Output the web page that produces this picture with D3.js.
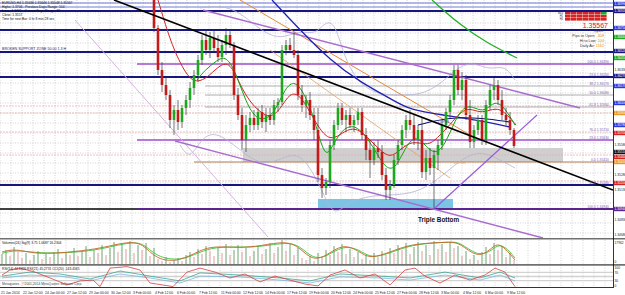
<!DOCTYPE html>
<html>
<head>
<meta charset="utf-8">
<script src="https://cdn.jsdelivr.net/npm/d3@7"></script>
<style>
  body { margin: 0; background: #fff; }
  svg { display: block; }
  text { font-family: "Liberation Sans", Arial, sans-serif; }
</style>
</head>
<body>
<svg id="chart" width="625" height="295"></svg>
<script>
//-----------------------------------------------------//
// Data (EURUSD H4)

const dateLabels = ["21 Jan 2014","22 Jan 12:00","24 Jan 00:00","27 Jan 12:00","29 Jan 00:00","30 Jan 12:00",
  "3 Feb 00:00","4 Feb 12:00","6 Feb 00:00","7 Feb 12:00","11 Feb 00:00","12 Feb 12:00","14 Feb 00:00",
  "17 Feb 12:00","19 Feb 00:00","20 Feb 12:00","24 Feb 00:00","25 Feb 12:00","27 Feb 00:00","28 Feb 12:00",
  "3 Mar 00:00","4 Mar 12:00","6 Mar 00:00","9 Mar 12:00"];

// candles visible in the main window start at bar 38
const firstBar = 38;
const opens  = [1.3718,1.3675,1.3633,1.3618,1.3608,1.3583,1.3593,1.3581,1.3595,1.3603,1.3615,1.3628,1.3643,1.3663,1.3653,1.3665,1.3655,1.3646,1.3658,1.3668,
  1.3658,1.3608,1.3588,1.3563,1.3578,1.3585,1.3578,1.3591,1.3581,1.3588,1.3583,1.3598,1.3601,1.3653,1.3658,1.3653,1.3648,1.3608,1.3598,1.3603,
  1.3588,1.3573,1.3528,1.3515,1.3521,1.3558,1.3578,1.3595,1.3583,1.3588,1.3578,1.3583,1.3591,1.3568,1.3553,1.3543,1.3555,1.3551,1.3528,1.3513,
  1.3518,1.3543,1.3558,1.3573,1.3583,1.3578,1.3563,1.3573,1.3531,1.3545,1.3535,1.3548,1.3558,1.3578,1.3591,1.3603,1.3633,1.3613,1.3623,1.3588,
  1.3561,1.3573,1.3583,1.3563,1.3598,1.3613,1.3618,1.3603,1.3588,1.3583,1.3573];
const highs  = [1.3723,1.3678,1.3641,1.3625,1.3613,1.3598,1.3603,1.3598,1.3608,1.3621,1.3633,1.3648,1.3668,1.3673,1.3671,1.3673,1.3668,1.3663,1.3675,1.3673,
  1.3661,1.3615,1.3595,1.3588,1.3591,1.3593,1.3595,1.3598,1.3595,1.3595,1.3603,1.3605,1.3658,1.3663,1.3665,1.3671,1.3653,1.3618,1.3608,1.3611,
  1.3595,1.3595,1.3535,1.3525,1.3563,1.3583,1.3600,1.3600,1.3593,1.3595,1.3588,1.3595,1.3595,1.3575,1.3563,1.3561,1.3563,1.3558,1.3535,1.3523,
  1.3548,1.3563,1.3578,1.3588,1.3593,1.3588,1.3578,1.3585,1.3553,1.3555,1.3553,1.3563,1.3583,1.3595,1.3608,1.3638,1.3638,1.3631,1.3628,1.3603,
  1.3578,1.3588,1.3588,1.3603,1.3618,1.3625,1.3623,1.3613,1.3595,1.3591,1.3575];
const lows   = [1.3671,1.3628,1.3611,1.3603,1.3575,1.3568,1.3573,1.3575,1.3588,1.3595,1.3608,1.3621,1.3638,1.3648,1.3645,1.3651,1.3641,1.3641,1.3648,1.3655,
  1.3603,1.3583,1.3553,1.3551,1.3571,1.3573,1.3573,1.3575,1.3571,1.3578,1.3578,1.3591,1.3598,1.3648,1.3651,1.3645,1.3603,1.3591,1.3585,1.3583,
  1.3563,1.3521,1.3505,1.3508,1.3515,1.3553,1.3573,1.3578,1.3571,1.3575,1.3571,1.3578,1.3563,1.3543,1.3525,1.3538,1.3545,1.3523,1.3503,1.3503,
  1.3515,1.3538,1.3553,1.3565,1.3573,1.3558,1.3553,1.3525,1.3523,1.3528,1.3495,1.3533,1.3553,1.3573,1.3585,1.3598,1.3608,1.3603,1.3583,1.3555,
  1.3555,1.3568,1.3558,1.3558,1.3593,1.3603,1.3598,1.3583,1.3578,1.3568,1.3555];
const closes = [1.3675,1.3633,1.3618,1.3608,1.3583,1.3593,1.3581,1.3595,1.3603,1.3615,1.3628,1.3643,1.3663,1.3653,1.3665,1.3655,1.3646,1.3658,1.3668,1.3658,
  1.3608,1.3588,1.3563,1.3578,1.3585,1.3578,1.3591,1.3581,1.3588,1.3583,1.3598,1.3601,1.3653,1.3658,1.3653,1.3648,1.3608,1.3598,1.3603,1.3588,
  1.3573,1.3528,1.3515,1.3521,1.3558,1.3578,1.3595,1.3583,1.3588,1.3578,1.3583,1.3591,1.3568,1.3553,1.3543,1.3555,1.3551,1.3528,1.3513,1.3518,
  1.3543,1.3558,1.3573,1.3583,1.3578,1.3563,1.3573,1.3531,1.3545,1.3535,1.3548,1.3558,1.3578,1.3591,1.3603,1.3633,1.3613,1.3623,1.3588,1.3561,
  1.3573,1.3583,1.3563,1.3598,1.3613,1.3618,1.3603,1.3588,1.3583,1.3573,1.3557];

// moving averages / bands as [bar, price]
const maFastRed = [[39,1.3703],[42,1.3663],[44.5,1.3640],[47,1.3623],[49.5,1.3621],[52,1.3628],[54.5,1.3638],[57,1.3641],[59.5,1.3618],
  [62,1.3601],[64.5,1.3591],[67,1.3585],[69.5,1.3593],[72,1.3611],[74.5,1.3608],[77,1.3591],[79.5,1.3573],[82,1.3563],[84.5,1.3568],
  [87,1.3575],[89.5,1.3573],[92,1.3563],[94.5,1.3553],[97,1.3545],[99.5,1.3553],[102,1.3561],[104.5,1.3560],[107,1.3558],[109.5,1.3568],
  [112,1.3578],[114.5,1.3591],[117,1.3595],[119.5,1.3590],[122,1.3593],[124.5,1.3595],[127,1.3585],[128.5,1.3578]];
const maFastGreen = [[48.75,1.3623],[50.75,1.3633],[53.25,1.3641],[55.75,1.3648],[58.25,1.3633],[60.75,1.3603],[63.25,1.3585],[65.75,1.3583],
  [68.25,1.3591],[70.75,1.3615],[73.25,1.3623],[75.75,1.3608],[78.25,1.3583],[80.75,1.3543],[82.75,1.3558],[85.25,1.3575],[88.25,1.3578],
  [90.75,1.3568],[93.25,1.3553],[95.75,1.3535],[98.25,1.3533],[100.75,1.3555],[103.25,1.3568],[105.75,1.3558],[108.25,1.3548],[110.75,1.3558],
  [113.25,1.3583],[115.75,1.3598],[118.25,1.3595],[120.75,1.3591],[123.25,1.3603],[125.75,1.3595],[128.25,1.3578]];
const maSlowBlue = [[67.5,1.3703],[74.5,1.3673],[82,1.3643],[89.5,1.3621],[97.75,1.3603],[102,1.3593],[110.25,1.3588],[118.75,1.3583],[127,1.3576]];
const maSlowNavy = [[104,1.3578],[112,1.3586],[120,1.3585],[127,1.3581]];
const maSlowGreen = [[107.5,1.3703],[114.5,1.3678],[121.25,1.3660],[128.75,1.3645]];
const bandUpper = [[49.5,1.3695],[54.5,1.3698],[59.5,1.3691],[64.5,1.3673],[69.5,1.3663],[74.5,1.3673],[78.25,1.3668],[80.75,1.3681],
  [83.25,1.3681],[85.75,1.3643],[89.5,1.3618],[94.5,1.3608],[99.5,1.3608],[104.5,1.3608],[109.5,1.3618],[114.5,1.3638],[118.25,1.3640],
  [122,1.3633],[125.75,1.3638],[128.25,1.3623]];
const bandLower = [[44.5,1.3558],[47,1.3543],[49.5,1.3563],[53.25,1.3573],[59.5,1.3553],[64.5,1.3538],[69.5,1.3543],[74.5,1.3553],
  [79.5,1.3518],[82.75,1.3486],[85.75,1.3498],[89.5,1.3505],[94.5,1.3508],[99.5,1.3508],[104.5,1.3512],[109.5,1.3525],[114.5,1.3543],
  [119.5,1.3553],[124.5,1.3543],[128.25,1.3535]];

// horizontal levels
const thinBlueLevels = [1.3700, 1.3696];
const navyLevels = [1.3692, 1.3673, 1.3651, 1.3626, 1.3518];
const purpleLevels = [1.3639, 1.3563];
const grayLevels = [1.3617, 1.3608, 1.3596];
const pinkDotLevels = [1.3597, 1.3590, 1.3571, 1.3548, 1.3522];
const brownLevel = 1.3541;
const bottomLevel = 1.3494;
const fibTexts = [["100.0", 1.3639], ["23.6", 1.3626], ["38.2", 1.3617], ["50.0", 1.3608], ["61.8", 1.3596], ["76.4", 1.3571],
  ["23.6", 1.3563], ["0.0", 1.3541], ["61.8", 1.3518], ["100.0", 1.3494]];

// trend lines: [bar, price] pairs
const blackTrend = [[28, 1.3703], [152.75, 1.3513]];
const purpleUpper = [[50.25, 1.3693], [144.5, 1.3595]];
const purpleLower = [[43.25, 1.3562], [135.25, 1.3465]];
const lavenderSteep = [[18.25, 1.3683], [66.5, 1.3466]];
const purpleRising = [[108.25, 1.3495], [133.75, 1.3588]];
const orangeA = [[59.5, 1.3703], [117, 1.3568]];
const orangeB = [[67, 1.3653], [112, 1.3525]];

// zones
const grayZone = { from: 60.25, to: 140.25, top: 1.3555, bottom: 1.3541 };
const blueZone = { from: 79, to: 112.75, top: 1.3504, bottom: 1.3494 };

// right edge price tags
const tagPrices = [1.3699, 1.3692, 1.3675, 1.3666, 1.3652, 1.3645, 1.3627, 1.3617, 1.3600, 1.3590, 1.3578, 1.3570, 1.3551, 1.3546, 1.3541, 1.3520, 1.3494];
const tagKinds  = ["blue","navy","blue","green","navy","green","navy","blue","blue","orange","blue","red","black","red","orange","red","purple"];

// volumes per bar (bars 0..128)
const volumes = [7500,10500,6000,12750,9000,4500,8250,3000,6750,9750,3750,7500,5250,9000,11250,4500,8250,6750,12000,6000,
  9750,13500,5250,10500,8250,14250,6750,12000,16500,9000,15000,11250,17250,8250,14250,10500,15750,6000,12000,3750,
  2250,5250,1500,3000,4500,2250,6750,9000,5250,11250,7500,13500,9750,6000,12750,8250,15000,6750,10500,14250,
  9000,12000,6000,9750,13500,7500,11250,15750,8250,12750,17962,9750,15000,6750,12000,4500,3000,6000,2250,8250,
  5250,10500,6750,13500,9000,15000,7500,11250,5250,9000,3750,6750,3000,8250,5250,9750,6750,12000,8250,14250,
  10500,15750,7500,12750,16500,9750,14250,6750,17250,11250,15000,9000,16500,12000,13500,6000,9750,3750,6750,3000,
  9000,12750,7500,15750,10500,13500,5250,8250,3000];
const volMaMain = [[0,9000],[3.25,11500],[8.25,7500],[14.5,8250],[22,10500],[27,13500],[31.25,16500],[35.25,15750],[38.5,3000],
  [44.5,1800],[49.5,10500],[53.25,13500],[59.5,12000],[64.5,13500],[71.25,17500],[74.5,12000],[77.5,3000],[80.75,5250],
  [85.25,15750],[89.5,9000],[91.75,4500],[95.25,6750],[101.25,14250],[107,15750],[112,16500],[114.5,15750],[118.75,4500],
  [122,10500],[123.75,15750],[125.75,12000],[128.25,3000]];
const volMaSignal = [[0,8000],[3.25,10500],[8.25,8500],[14.5,8000],[22,9750],[27,12750],[31.25,15750],[35.25,16500],[38.5,5250],
  [44.5,2250],[49.5,9000],[53.25,12750],[59.5,12750],[64.5,12750],[71.25,16500],[74.5,13500],[77.5,4500],[80.75,4500],
  [85.25,14250],[89.5,10500],[91.75,5250],[95.25,6000],[101.25,13500],[107,15750],[112,16500],[114.5,16500],[118.75,6000],
  [122,9000],[123.75,14250],[125.75,13500],[128.25,4500]];

// oscillators (0..100)
const oscRed = [[0,57],[2,81],[4.5,90],[8.25,71],[12,43],[16.25,10],[19.5,29],[22.75,33],[24.5,2],[27,90],[31.25,97],[34.5,81],
  [37,19],[42.75,2],[46.25,71],[49.5,90],[53.25,71],[57,43],[60.75,62],[64.5,24],[68.25,52],[72,33],[75.75,14],[79,5],[82,57],
  [85.75,81],[89.5,43],[93.25,62],[97,10],[100.75,81],[103.25,90],[105.75,52],[109.5,19],[113.25,57],[117,33],[120.75,57],
  [123.25,90],[125.75,71],[128.25,2]];
const oscTeal = [[0,52],[7,71],[14.5,62],[22,38],[29.5,76],[37,52],[44.5,29],[49.5,67],[59.5,57],[69.5,43],[77,29],[84.5,62],
  [94.5,52],[102,43],[110.75,71],[119.5,43],[124.5,71],[128.25,43]];
const oscBlue = [[0,43],[7,57],[14.5,52],[22,29],[29.5,62],[37,43],[44.5,19],[49.5,52],[59.5,48],[69.5,33],[77,19],[84.5,48],
  [94.5,43],[102,33],[110.75,57],[119.5,33],[124.5,57],[128.25,29]];
const oscLevels = [70, 50, 30];

// info texts
const infoLines = ["EURUSD,H4  1.35636 1.35646 1.35548 1.35567",
  "Highs: 1.3706  -  Previous Days Range: 104",
  "Lows: 1.3461  -  Current Days Range: 33",
  "Close: 1.3557",
  "Time for next Bar: 0 hr 8 min 28 sec"];
const panelRows = ["M15", "H1", "H4"];
const panelCols = 7;
const bidText = "1.35567";
const statLines = [["Open: ", ""], ["Pips to Open: ", "-308"], ["Hi to Low: ", "104"], ["Daily Av: ", "1162"]];

//-----------------------------------------------------//

const svg = d3.select("#chart");
const plotR = 613;
const mainBot = 238, volTop = 240, volBot = 264, oscTop = 266, oscBot = 287;

const x = d3.scaleLinear().domain([0, 152.75]).range([2, plotR]);
const y = d3.scaleLinear().domain([1.3465, 1.3703]).range([mainBot, 0]);
const yVol = d3.scaleLinear().domain([0, 18000]).range([volBot, volTop]);
const yOsc = d3.scaleLinear().domain([0, 100]).range([oscBot, oscTop]);
const dateX = d3.scalePoint().domain(dateLabels).range([0, 506]);
const fmt = d3.format(".5f");

svg.append("rect").attr("width", 625).attr("height", 295).attr("fill", "#fff");

const defs = svg.append("defs");
function clip(id, y0, h) {
  defs.append("clipPath").attr("id", id).append("rect").attr("x", 0).attr("y", y0).attr("width", plotR).attr("height", h);
}
clip("c-main", 0, mainBot);
clip("c-vol", volTop, volBot - volTop);
clip("c-osc", oscTop, oscBot - oscTop);

// grid (dotted)
const half = dateX.step() / 2;
const gridXs = d3.range(0, plotR, half);
const grid = svg.append("g").attr("stroke", "#b8b8b8").attr("stroke-width", 0.6).attr("stroke-dasharray", "1,1.5");
gridXs.forEach(gx => {
  grid.append("line").attr("x1", gx).attr("x2", gx).attr("y1", 0).attr("y2", oscBot);
});
d3.range(1.3470, 1.3703, 0.0010).forEach(p => {
  grid.append("line").attr("x1", 0).attr("x2", plotR).attr("y1", y(p)).attr("y2", y(p));
});

const main = svg.append("g").attr("clip-path", "url(#c-main)");
const line = d3.line().x(d => x(d[0])).y(d => y(d[1]));
const smooth = d3.line().x(d => x(d[0])).y(d => y(d[1])).curve(d3.curveBasis);

// zones
main.append("rect").attr("x", x(grayZone.from)).attr("width", x(grayZone.to) - x(grayZone.from))
  .attr("y", y(grayZone.top)).attr("height", y(grayZone.bottom) - y(grayZone.top)).attr("fill", "#cfcfcf");
main.append("rect").attr("x", x(blueZone.from)).attr("width", x(blueZone.to) - x(blueZone.from))
  .attr("y", y(blueZone.top)).attr("height", y(blueZone.bottom) - y(blueZone.top)).attr("fill", "#7cc4e4");

// horizontal levels
function hline(p, x0, color, w, dash) {
  main.append("line").attr("x1", x0).attr("x2", plotR).attr("y1", y(p)).attr("y2", y(p))
    .attr("stroke", color).attr("stroke-width", w).attr("stroke-dasharray", dash || null);
}
pinkDotLevels.forEach(p => hline(p, 0, "#e6a8a8", 0.7, "2,1"));
grayLevels.forEach(p => hline(p, x(50.75), "#9a9a9a", 0.8));
hline(brownLevel, x(48), "#b07a50", 1);
thinBlueLevels.forEach(p => hline(p, 0, "#4a5ad0", 0.8));
purpleLevels.forEach(p => hline(p, x(33.75), "#b57ad8", 1.8));
navyLevels.forEach(p => hline(p, 0, "#16167e", 1.8));
hline(bottomLevel, 0, "#000", 1.6);
hline(bottomLevel, x(33.75), "#5a2590", 1.8);

// Bollinger-like bands
[bandUpper, bandLower].forEach(b => {
  main.append("path").attr("d", smooth(b)).attr("fill", "none").attr("stroke", "#b4b4d6").attr("stroke-width", 0.8);
});

// trend lines
function tline(pts, color, w) {
  main.append("path").attr("d", line(pts)).attr("fill", "none").attr("stroke", color).attr("stroke-width", w);
}
tline(lavenderSteep, "#d9b2e2", 1);
tline(orangeA, "#e08a3a", 1);
tline(orangeB, "#e0a060", 0.8);
tline(purpleUpper, "#a86cd0", 1.4);
tline(purpleLower, "#a86cd0", 1.4);
tline(purpleRising, "#9a5cd8", 1.2);

// moving averages
[[maSlowBlue, "#2222b0", 1.3], [maSlowNavy, "#10106a", 1.1], [maSlowGreen, "#22b022", 1.3],
 [maFastRed, "#d42222", 1], [maFastGreen, "#14a014", 1]].forEach(([pts, c, w]) => {
  main.append("path").attr("d", smooth(pts)).attr("fill", "none").attr("stroke", c).attr("stroke-width", w);
});

// candles
const candles = closes.map((c, k) => ({ i: firstBar + k, o: opens[k], h: highs[k], l: lows[k], c: c }));
const cg = main.append("g").selectAll("g").data(candles).enter().append("g");
cg.append("line")
  .attr("x1", d => x(d.i)).attr("x2", d => x(d.i))
  .attr("y1", d => y(d.h)).attr("y2", d => y(d.l))
  .attr("stroke", "#3a3a3a").attr("stroke-width", 0.7);
cg.append("rect")
  .attr("x", d => x(d.i) - 1.3).attr("width", 2.6)
  .attr("y", d => y(Math.max(d.o, d.c)))
  .attr("height", d => Math.max(1, Math.abs(y(d.o) - y(d.c))))
  .attr("fill", d => d.c >= d.o ? "#1fa81f" : "#c41a1a");

tline(blackTrend, "#000", 1.6);

// small tags on chart
[["LOPSS", 109, 1.3580, "#2a3ad0"], ["LOPSS", 114, 1.3590, "#e0a030"], ["LOPSS", 113, 1.3539, "#e0a030"]].forEach(t => {
  main.append("text").attr("x", x(t[1])).attr("y", y(t[2])).attr("font-size", 3.4).attr("fill", t[3]).text(t[0]);
});

// fib labels
fibTexts.forEach(([r, p]) => {
  main.append("text").attr("x", 609).attr("y", y(p) - 0.8).attr("text-anchor", "end")
    .attr("font-size", 3.4).attr("fill", "#8a62b0").text(r + "  " + fmt(p));
});

// left label & Triple Bottom
main.append("text").attr("x", 2).attr("y", y(1.3651) - 2).attr("font-size", 3.6).attr("fill", "#16167e")
  .text("BROKEN SUPPORT ZONE 50.00 1.3 H");
main.append("text").attr("x", 418).attr("y", 222).attr("font-size", 6.4).attr("font-weight", "bold")
  .attr("fill", "#111").text("Triple Bottom");

// info top-left
infoLines.forEach((t, k) => {
  svg.append("text").attr("x", 2).attr("y", [3.6, 7.6, 11.6, 16, 19.6][k]).attr("font-size", 3.3).attr("fill", "#111").text(t);
});

// info panel top-right
const pan = svg.append("g");
const cw = 5.6, ch = 2.6;
panelRows.forEach((r, ri) => {
  pan.append("text").attr("x", 563).attr("y", 12 + ri * 3 + 2.2).attr("text-anchor", "end").attr("font-size", 2.6).attr("fill", "#333").text(r);
  d3.range(panelCols).forEach(ci => {
    pan.append("rect").attr("x", 565 + ci * (cw + 0.4)).attr("y", 12 + ri * 3).attr("width", cw).attr("height", ch)
      .attr("fill", ri === 0 && ci === panelCols - 1 ? "#22a822" : "#d42424");
  });
});
pan.append("text").attr("x", 608).attr("y", 27.5).attr("text-anchor", "end").attr("font-size", 7).attr("fill", "#d42020").text(bidText);
statLines.forEach(([a, b], k) => {
  const t = pan.append("text").attr("x", 604).attr("y", 31.5 + k * 5).attr("text-anchor", "end").attr("font-size", 3.8).attr("fill", "#333");
  t.append("tspan").text(a);
  t.append("tspan").attr("fill", "#e08a20").text(b);
});

// volume pane
const vol = svg.append("g").attr("clip-path", "url(#c-vol)");
vol.selectAll("line").data(volumes).enter().append("line")
  .attr("x1", (d, i) => x(i)).attr("x2", (d, i) => x(i))
  .attr("y1", volBot).attr("y2", d => yVol(d))
  .attr("stroke", (d, i) => i > 0 && d < volumes[i - 1] ? "#d89090" : "#5e9a5e").attr("stroke-width", 0.9);
const vLine = d3.line().x(d => x(d[0])).y(d => yVol(d[1])).curve(d3.curveBasis);
vol.append("path").attr("d", vLine(volMaSignal)).attr("fill", "none").attr("stroke", "#3cc43c").attr("stroke-width", 0.9);
vol.append("path").attr("d", vLine(volMaMain)).attr("fill", "none").attr("stroke", "#c8642a").attr("stroke-width", 0.9);
svg.append("text").attr("x", 2).attr("y", 243.5).attr("font-size", 3.3).attr("fill", "#111")
  .text("Volumes(24)  Sig(9)  3.75  1.0687  16.2304");

// oscillator pane
const osc = svg.append("g").attr("clip-path", "url(#c-osc)");
oscLevels.forEach(v => {
  osc.append("line").attr("x1", 0).attr("x2", plotR).attr("y1", yOsc(v)).attr("y2", yOsc(v))
    .attr("stroke", "#d2d2d2").attr("stroke-width", 1.3);
});
const oLine = d3.line().x(d => x(d[0])).y(d => yOsc(d[1])).curve(d3.curveLinear);
osc.append("path").attr("d", oLine(oscBlue)).attr("fill", "none").attr("stroke", "#7ab8e0").attr("stroke-width", 0.8);
osc.append("path").attr("d", oLine(oscTeal)).attr("fill", "none").attr("stroke", "#3aa890").attr("stroke-width", 0.8);
osc.append("path").attr("d", oLine(oscRed)).attr("fill", "none").attr("stroke", "#d84040").attr("stroke-width", 0.8);
svg.append("text").attr("x", 2).attr("y", 269.5).attr("font-size", 3.3).attr("fill", "#111")
  .text("RSI(14) 44.8426  RSI(21) 45.2731  CCI(20) -143.4565");
svg.append("text").attr("x", 2).attr("y", 285).attr("font-size", 3.3).attr("fill", "#444")
  .text("Metaquotes - \u00a92001-2014 MetaQuotes Software Corp.");

// separators and frame
[[238.8, 1.6], [264.9, 1.6]].forEach(([sy, w]) => {
  svg.append("line").attr("x1", 0).attr("x2", 625).attr("y1", sy).attr("y2", sy).attr("stroke", "#707070").attr("stroke-width", w);
});
svg.append("line").attr("x1", 0).attr("x2", plotR).attr("y1", oscBot + 0.5).attr("y2", oscBot + 0.5).attr("stroke", "#000").attr("stroke-width", 0.8);
svg.append("line").attr("x1", plotR + 0.5).attr("x2", plotR + 0.5).attr("y1", 0).attr("y2", oscBot + 1).attr("stroke", "#000").attr("stroke-width", 0.8);

// right price axis (skip labels hidden under a price tag)
d3.range(1.3468, 1.3703, 0.0015)
  .filter(p => tagPrices.every(t => Math.abs(y(t) - y(p)) > 5))
  .forEach(p => {
    svg.append("text").attr("x", 614.5).attr("y", y(p) + 1.2).attr("font-size", 3.3).attr("fill", "#222").text(fmt(p));
  });
const tagColor = { blue: "#2a3ad8", navy: "#16167e", green: "#22a822", orange: "#e89a2a", red: "#d42424", black: "#111", purple: "#5a2590" };
tagPrices.forEach((p, k) => {
  svg.append("rect").attr("x", 614).attr("y", y(p) - 2.2).attr("width", 11).attr("height", 4.4).attr("fill", tagColor[tagKinds[k]]);
  svg.append("text").attr("x", 614.6).attr("y", y(p) + 1.2).attr("font-size", 3.2).attr("fill", "#fff").text(fmt(p));
});
[["17962", 243.5], ["0", 263], ["100", 268.5], ["70", yOsc(70) + 1.2], ["30", yOsc(30) + 1.2], ["0", 287]].forEach(([t, ty]) => {
  svg.append("text").attr("x", 614.5).attr("y", ty).attr("font-size", 3.3).attr("fill", "#222").text(t);
});

// date axis
dateLabels.forEach(d => {
  svg.append("text").attr("x", dateX(d) + 1).attr("y", 293.5).attr("font-size", 3.4).attr("fill", "#222").text(d);
});
</script>
</body>
</html>
